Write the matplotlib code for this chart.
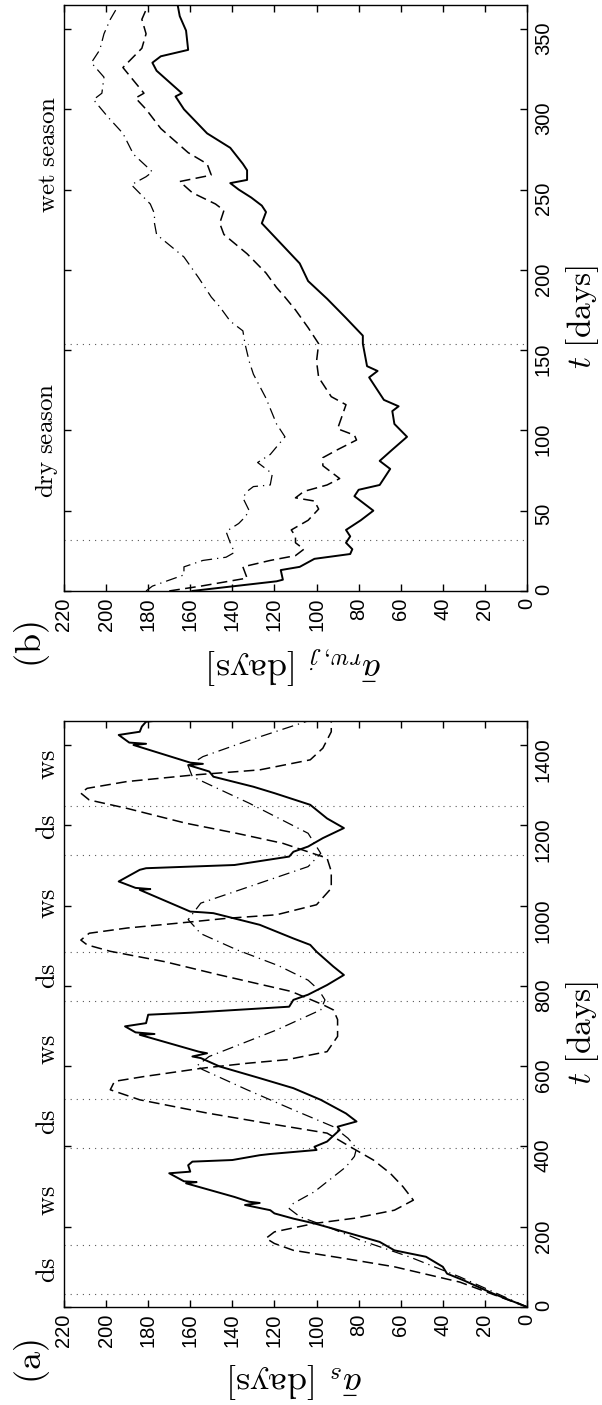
import matplotlib
matplotlib.use("Agg")
import matplotlib.pyplot as plt
import matplotlib.transforms as mtransforms

plt.rcParams['font.family'] = ['Liberation Sans', 'DejaVu Sans']
plt.rcParams['mathtext.fontset'] = 'cm'

# ---- panel (a): four years ----
t_a_solid = [0, 33, 66, 83, 100, 125, 141, 162, 183, 208, 220, 233, 241, 254, 259, 262, 274, 308, 311, 313,
             333, 337, 353, 362, 366, 378, 381, 391, 399, 412, 441, 449, 462, 482, 516, 545, 570, 599, 620,
             624, 632, 636, 678, 680, 684, 699, 707, 728, 733, 740, 748, 765, 778, 802, 827, 848, 885, 902,
             918, 952, 981, 983, 985, 1039, 1041, 1044, 1060, 1089, 1093, 1097, 1101, 1122, 1134, 1147, 1168,
             1193, 1217, 1251, 1280, 1296, 1321, 1334, 1350, 1353, 1356, 1400, 1403, 1406, 1425, 1433, 1446,
             1458, 1460]
v_a_solid = [0, 16, 30, 38, 40, 48, 63, 70, 84, 101, 111, 120, 122, 134, 127, 132, 139, 162, 157, 163,
             170, 160, 161, 159, 140, 127, 122, 100, 101, 95, 89, 90, 81, 86, 98, 111, 127, 146, 155,
             159, 152, 156, 184, 177, 186, 191, 181, 180, 160, 138, 113, 111, 104, 95, 87, 92, 100, 103,
             111, 127, 149, 154, 160, 184, 179, 186, 194, 184, 181, 160, 139, 113, 111, 104, 97,
             87, 95, 103, 120, 130, 149, 151, 161, 154, 160, 187, 181, 189, 194, 184, 183,
             181, 177]

t_a_dash = [0, 62, 100, 121, 141, 158, 171, 187, 208, 221, 241, 266, 300, 333, 366, 399, 433, 458, 483,
            516, 541, 562, 574, 595, 607, 616, 636, 674, 700, 716, 740, 753, 786, 827, 860, 886, 902, 914,
            931, 944, 956, 968, 977, 1002, 1043, 1085, 1118, 1155, 1180, 1205, 1242, 1263, 1280, 1292,
            1309, 1325, 1338, 1363, 1392, 1433, 1460]
v_a_dash = [0, 32, 63, 87, 111, 120, 124, 120, 101, 82, 63, 54, 59, 65, 73, 84, 95, 124, 152,
            184, 198, 196, 182, 154, 133, 114, 95, 90, 90, 90, 92, 97, 112, 146, 172, 198, 209, 212,
            208, 190, 166, 143, 119, 100, 93, 93, 95, 116, 138, 162, 190, 208, 212, 209,
            190, 159, 127, 103, 97, 93, 93]

t_a_dashdot = [0, 75, 125, 166, 200, 225, 245, 258, 287, 349, 375, 395, 420, 449, 491, 541, 591, 600, 624,
               657, 690, 740, 765, 790, 814, 850, 890, 930, 965, 1006, 1047, 1097, 1130, 1180, 1255, 1321,
               1348, 1371, 1410, 1460]
v_a_dashdot = [0, 32, 56, 79, 95, 108, 113, 111, 101, 86, 82, 81, 85, 92, 111, 133, 154, 157, 151,
               135, 119, 98, 96, 99, 104, 118, 138, 155, 161, 155, 132, 104, 98, 104, 132, 159,
               161, 154, 133, 104]

dry_a = [32, 154, 397, 519, 762, 884, 1127, 1249]
ds_pos = [93, 460, 825, 1195]
ws_pos = [265, 642, 1004, 1350]
ticks_a = [0, 200, 400, 600, 800, 1000, 1200, 1400]

# ---- panel (b): one year ----
t_b_solid = [0, 6, 7, 13, 15, 20, 23, 26, 30, 34, 38, 44, 50, 59, 63, 66, 76, 81, 88, 96, 104, 112, 115,
             119, 133, 137, 140, 154, 159, 170, 182, 193, 204, 229, 236, 240, 245, 250, 254, 256, 262, 266,
             276, 285, 300, 308, 310, 324, 329, 333, 337, 349, 358, 365]
v_b_solid = [159, 119, 116, 117, 108, 101, 84, 83, 86, 84, 86, 79, 73, 82, 80, 70, 65, 70, 64, 57, 63, 64, 61,
             68, 75, 71, 76, 78, 78, 86, 95, 104, 108, 126, 124, 126, 131, 137, 141, 133, 133, 135,
             141, 152, 163, 167, 164, 176, 178, 174, 161, 162, 165, 166]

t_b_dash = [0, 3, 8, 15, 19, 22, 26, 30, 34, 38, 44, 51, 56, 58, 62, 66, 70, 78, 83, 88, 94, 97, 101, 116,
            121, 133, 143, 154, 164, 175, 183, 189, 198, 210, 222, 229, 237, 241, 248, 255, 259, 266, 273,
            288, 300, 307, 310, 326, 338, 347, 356, 365]
v_b_dash = [170, 155, 133, 135, 122, 110, 106, 110, 110, 112, 104, 99, 101, 110, 106, 95, 89, 97, 97, 90, 81,
            82, 90, 86, 93, 99, 100, 99, 104, 110, 115, 119, 124, 133, 144, 146, 144, 148, 159, 165, 150,
            152, 161, 174, 181, 186, 182, 192, 183, 181, 183, 180]

t_b_dashdot = [0, 3, 10, 15, 19, 21, 24, 30, 37, 42, 46, 50, 58, 62, 65, 66, 73, 80, 85, 96, 104, 120, 135,
               143, 154, 162, 168, 177, 183, 195, 208, 222, 229, 235, 241, 253, 258, 261, 272, 285, 295,
               306, 310, 320, 329, 337, 347, 356, 365]
v_b_dashdot = [181, 178, 163, 163, 154, 143, 139, 141, 143, 137, 134, 132, 135, 133, 130, 122, 121, 128, 122,
               115, 119, 124, 130, 132, 134, 135, 141, 146, 150, 156, 163, 176, 177, 177, 179, 188, 181,
               178, 187, 192, 199, 206, 202, 201, 207, 203, 201, 198, 194]

dry_b = [32, 154]
ticks_b = [0, 50, 100, 150, 200, 250, 300, 350]
val_ticks = list(range(0, 221, 20))


def setup_axes(ax, tmax, tticks):
    ax.set_xlim(220, 0)
    ax.set_ylim(0, tmax)
    ax.set_xticks(val_ticks)
    ax.set_yticks(tticks)
    ax.tick_params(direction='in', length=5, width=1, top=True, right=True,
                   labelleft=False, labelright=True, labelsize=14.5, pad=5)
    ax.tick_params(axis='x', labelrotation=90)
    ax.tick_params(axis='y', labelrotation=90)
    for s in ax.spines.values():
        s.set_linewidth(1.0)


def draw_curves(ax, ts, vs, td, vd, tdd, vdd):
    ax.plot(vs, ts, color='k', lw=1.4, solid_joinstyle='round')
    ax.plot(vd, td, color='k', lw=1.1, dashes=(7, 3.5))
    ax.plot(vdd, tdd, color='k', lw=0.9, dashes=(9, 4, 1, 4))


fig = plt.figure(figsize=(6.02, 14.05), dpi=100)
ax_b = fig.add_axes([0.1063, 0.5794, 0.7691, 0.4171])
ax_a = fig.add_axes([0.1063, 0.0698, 0.7691, 0.4171])

# panel (a)
setup_axes(ax_a, 1460, ticks_a)
for d in dry_a:
    ax_a.axhline(d, color='0.35', lw=0.8, ls=(0, (1, 4.5)))
draw_curves(ax_a, t_a_solid, v_a_solid, t_a_dash, v_a_dash, t_a_dashdot, v_a_dashdot)
trans_a = mtransforms.blended_transform_factory(ax_a.transAxes, ax_a.transData)
for p in ds_pos:
    ax_a.text(-0.008, p, r'$\mathrm{ds}$', rotation=90, ha='right', va='center',
              fontsize=19, transform=trans_a)
for p in ws_pos:
    ax_a.text(-0.008, p, r'$\mathrm{ws}$', rotation=90, ha='right', va='center',
              fontsize=19, transform=trans_a)
ax_a.text(1.12, 0.468, r'$t\ \mathrm{[days]}$', rotation=90, ha='center', va='center',
          fontsize=24, transform=ax_a.transAxes)
ax_a.text(0.5, -0.125, r'$\bar{a}_s\ \mathrm{[days]}$', rotation=180, ha='center', va='center',
          fontsize=26, transform=ax_a.transAxes)
ax_a.text(-0.069, -0.094, r'$\mathrm{(a)}$', rotation=90, ha='center', va='center',
          fontsize=26, transform=ax_a.transAxes)

# panel (b)
setup_axes(ax_b, 365, ticks_b)
for d in dry_b:
    ax_b.axhline(d, color='0.35', lw=0.8, ls=(0, (1, 4.5)))
draw_curves(ax_b, t_b_solid, v_b_solid, t_b_dash, v_b_dash, t_b_dashdot, v_b_dashdot)
trans_b = mtransforms.blended_transform_factory(ax_b.transAxes, ax_b.transData)
ax_b.text(-0.008, 94, r'$\mathrm{dry\ season}$', rotation=90, ha='right', va='center',
          fontsize=18, transform=trans_b)
ax_b.text(-0.008, 272, r'$\mathrm{wet\ season}$', rotation=90, ha='right', va='center',
          fontsize=18, transform=trans_b)
ax_b.text(1.12, 0.468, r'$t\ \mathrm{[days]}$', rotation=90, ha='center', va='center',
          fontsize=24, transform=ax_b.transAxes)
ax_b.text(0.5, -0.125, r'$\bar{a}_{rw,j}\ \mathrm{[days]}$', rotation=180, ha='center', va='center',
          fontsize=26, transform=ax_b.transAxes)
ax_b.text(-0.069, -0.092, r'$\mathrm{(b)}$', rotation=90, ha='center', va='center',
          fontsize=26, transform=ax_b.transAxes)

fig.savefig("out.png", dpi=100)
